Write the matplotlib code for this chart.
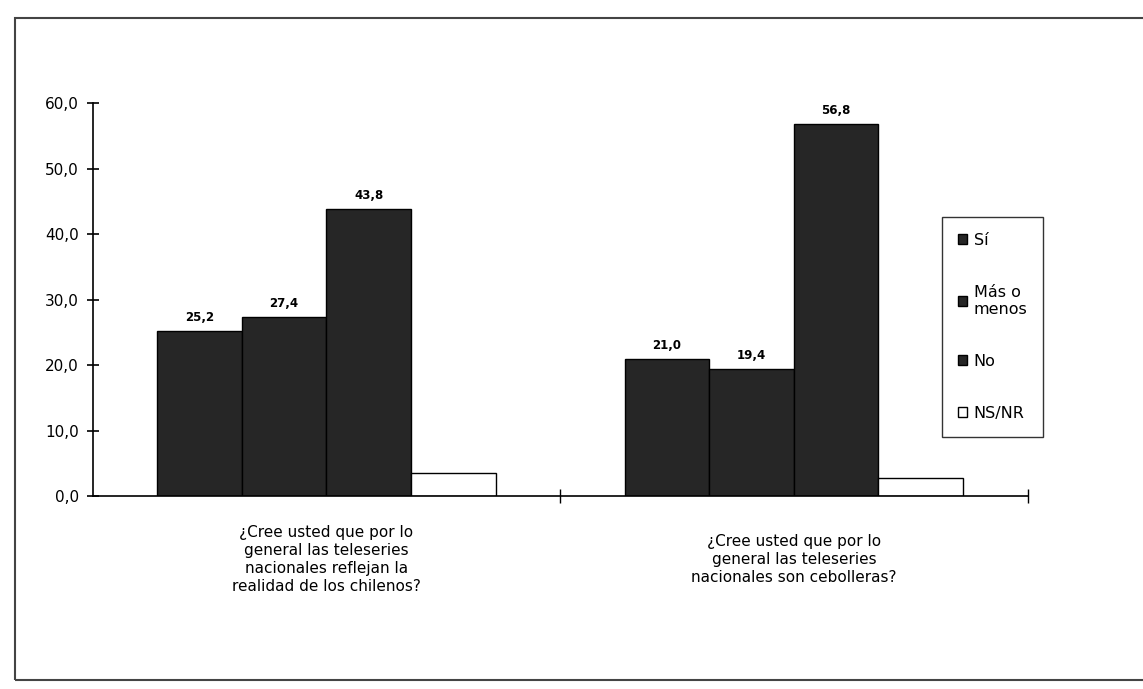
import matplotlib
matplotlib.use("Agg")
import matplotlib.pyplot as plt
from matplotlib.patches import Rectangle
import numpy as np

plt.rcParams['font.family'] = ['Liberation Sans Narrow', 'DejaVu Sans']

preguntas = ['¿Cree usted que por lo\ngeneral las teleseries\nnacionales reflejan la\nrealidad de los chilenos?',
             '¿Cree usted que por lo\ngeneral las teleseries\nnacionales son cebolleras?']
respuestas = ['Sí', 'Más o\nmenos', 'No', 'NS/NR']
si = [25.2, 21.0]
mas_o_menos = [27.4, 19.4]
no = [43.8, 56.8]
ns_nr = [3.6, 2.8]

series = [si, mas_o_menos, no, ns_nr]
colores = ['#262626', '#262626', '#262626', 'white']

fig = plt.figure(figsize=(11.43, 6.89), dpi=100)
ax = fig.add_axes([0.081, 0.280, 0.818, 0.570])

x = np.arange(len(preguntas))
w = 0.181
for i, (vals, c, lab) in enumerate(zip(series, colores, respuestas)):
    bars = ax.bar(x + (i - 1.5) * w, vals, w, color=c, edgecolor='black', linewidth=1.0, label=lab)
    if i < 3:
        ax.bar_label(bars, labels=[f"{v:.1f}".replace('.', ',') for v in vals],
                     padding=5, fontsize=8.5, fontweight='bold', family='DejaVu Sans')

ax.set_xlim(-0.5, 1.5)
ax.set_ylim(0, 60)
ax.set_yticks(np.arange(0, 61, 10))
ax.set_yticklabels([f"{v:.1f}".replace('.', ',') for v in np.arange(0, 61, 10)],
                   fontsize=11, family='DejaVu Sans')
ax.tick_params(axis='y', direction='inout', length=8, width=1.2, pad=6)

ax.set_xticks(x)
ax.set_xticklabels(preguntas, fontsize=11, linespacing=1.25)
ax.tick_params(axis='x', length=0, pad=46)
for t in ax.get_xticklabels():
    t.set_va('center')
ax.set_xticks([0.5, 1.5], minor=True)
ax.tick_params(axis='x', which='minor', direction='inout', length=10, width=1.0)

for s in ['top', 'right']:
    ax.spines[s].set_visible(False)
ax.spines['left'].set_linewidth(1.2)
ax.spines['bottom'].set_linewidth(1.2)

leg = ax.legend(loc='upper left', bbox_to_anchor=(0.824, 0.685), bbox_transform=fig.transFigure,
                fontsize=11.5, frameon=True, fancybox=False, edgecolor='black',
                handlelength=0.6, handleheight=0.6, handletextpad=0.4,
                labelspacing=2.3, borderpad=1.0, borderaxespad=0)
leg.get_frame().set_linewidth(1.0)

fig.patches.append(Rectangle((0.013, 0.013), 1.0, 0.961, transform=fig.transFigure,
                             fill=False, edgecolor='#444444', linewidth=1.5))

fig.savefig('out.png', dpi=100)
